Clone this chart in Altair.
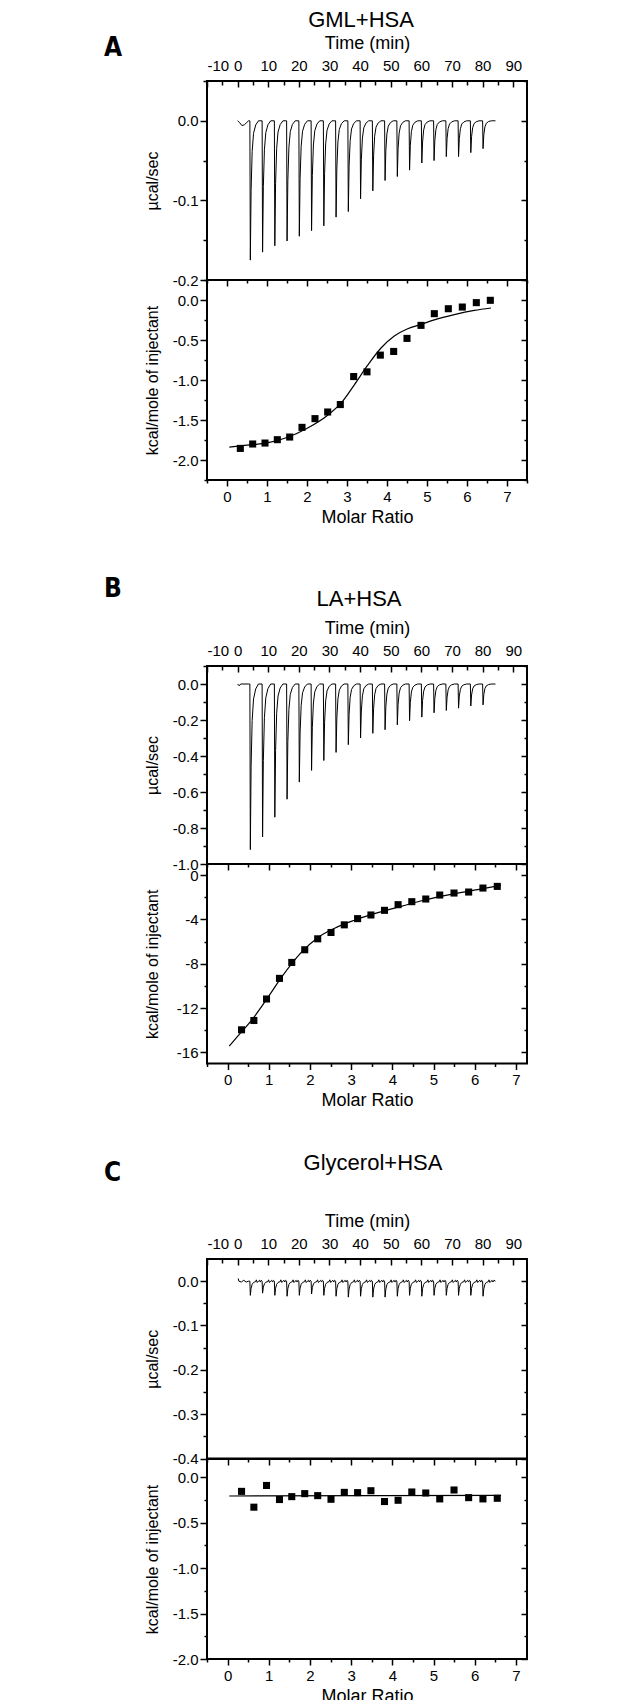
import altair as alt
import pandas as pd

FONT = "Liberation Sans"
LETTER_FONT = "Liberation Sans Narrow, DejaVu Sans Condensed, Liberation Sans"
MINUS = "replace(datum.label, '\u2212', '-')"

# ---------------- data ----------------
panel_titles = ["GML+HSA", "LA+HSA", "Glycerol+HSA"]
panel_letters = ["A", "B", "C"]

inj_times = [4, 8, 12, 16, 20, 24, 28, 32, 36, 40, 44, 48, 52, 56, 60, 64, 68, 72, 76, 80]
trace_end = 84.2

peaks_A = [-0.175, -0.165, -0.157, -0.151, -0.145, -0.138, -0.132, -0.121, -0.114, -0.098,
           -0.088, -0.075, -0.070, -0.062, -0.053, -0.050, -0.045, -0.045, -0.040, -0.035]
peaks_B = [-0.92, -0.85, -0.74, -0.64, -0.545, -0.48, -0.425, -0.38, -0.337, -0.30,
           -0.274, -0.254, -0.227, -0.204, -0.184, -0.160, -0.147, -0.134, -0.122, -0.116]
peaks_C = [-0.032, -0.027, -0.032, -0.034, -0.032, -0.029, -0.032, -0.034, -0.036, -0.034,
           -0.036, -0.036, -0.034, -0.032, -0.034, -0.032, -0.032, -0.032, -0.032, -0.034]

# spike shape (time after injection, fraction of peak depth)
spike_dt = [0.0, 0.15, 0.4, 0.75, 1.2, 1.9, 2.8]
spike_frac = [0.0, 1.0, 0.5, 0.22, 0.09, 0.03, 0.0]

# start of traces
pre_A_t = [0.0, 0.6, 1.4, 2.2, 3.0, 3.6]
pre_A_v = [0.0, -0.002, -0.006, -0.005, -0.002, 0.0]
pre_B_t = [0.0, 0.5, 1.0, 3.6]
pre_B_v = [0.0, -0.01, 0.0, 0.0]
pre_C_t = [0.2, 0.4, 1.2, 2.0, 2.8, 3.6]
pre_C_v = [0.006, 0.0, -0.002, 0.002, -0.002, 0.0]

# baseline wiggle of the glycerol trace
noise_C_dt = [2.1, 2.4, 3.1, 3.4, 3.7]
noise_C_v = [0.003, -0.003, 0.002, -0.002, 0.002]

# integrated heats
mr_A = [0.333, 0.642, 0.95, 1.258, 1.567, 1.875, 2.2, 2.517, 2.833, 3.167,
        3.5, 3.833, 4.167, 4.5, 4.85, 5.183, 5.533, 5.883, 6.233, 6.583]
heat_A = [-1.855, -1.80, -1.788, -1.746, -1.713, -1.592, -1.483, -1.40, -1.307, -0.957,
          -0.898, -0.689, -0.643, -0.48, -0.317, -0.171, -0.109, -0.088, -0.033, -0.004]
fit_A_x = [0.058, 0.5, 1.0, 1.517, 2.017, 2.517, 2.85, 3.183, 3.517, 3.85,
           4.183, 4.517, 4.85, 5.183, 5.683, 6.183, 6.6]
fit_A_y = [-1.838, -1.815, -1.787, -1.715, -1.6, -1.44, -1.29, -1.06, -0.815, -0.6,
           -0.45, -0.36, -0.305, -0.248, -0.182, -0.13, -0.1]

mr_B = [0.339, 0.638, 0.945, 1.26, 1.558, 1.873, 2.188, 2.511, 2.834, 3.157,
        3.48, 3.81, 4.14, 4.473, 4.812, 5.151, 5.498, 5.853, 6.2, 6.548]
heat_B = [-13.96, -13.12, -11.18, -9.32, -7.88, -6.74, -5.75, -5.18, -4.49, -3.93,
          -3.60, -3.18, -2.67, -2.40, -2.16, -1.80, -1.62, -1.53, -1.17, -1.02]
fit_B_x = [0.04, 0.3, 0.58, 0.95, 1.308, 1.79, 2.196, 2.6, 3.084, 3.65, 4.214, 4.78, 5.425, 6.07, 6.636]
fit_B_y = [-15.43, -14.31, -13.12, -11.2, -9.23, -6.98, -5.63, -4.79, -4.07, -3.39, -2.82, -2.25, -1.74, -1.32, -0.93]

mr_C = [0.339, 0.638, 0.945, 1.26, 1.558, 1.873, 2.188, 2.511, 2.834, 3.157,
        3.48, 3.81, 4.14, 4.473, 4.812, 5.151, 5.498, 5.853, 6.2, 6.548]
heat_C = [-0.156, -0.33, -0.091, -0.246, -0.214, -0.181, -0.203, -0.243, -0.167, -0.170,
          -0.149, -0.268, -0.254, -0.163, -0.174, -0.239, -0.141, -0.225, -0.239, -0.232]
fit_C_x = [0.04, 6.64]
fit_C_y = [-0.207, -0.200]

time_major = [-10, 0, 10, 20, 30, 40, 50, 60, 70, 80, 90]
time_minor = [-5, 5, 15, 25, 35, 45, 55, 65, 75, 85]


def build_trace(peaks, pre_t, pre_v, noise_dt=None, noise_v=None):
    rows = list(zip(pre_t, pre_v))
    for t0, p in zip(inj_times, peaks):
        for dt, f in zip(spike_dt, spike_frac):
            rows.append((t0 + dt, p * f))
        if noise_dt:
            for dt, v in zip(noise_dt, noise_v):
                rows.append((t0 + dt, v))
    rows.append((trace_end, 0.0))
    rows.sort(key=lambda r: r[0])
    return pd.DataFrame(rows, columns=["t", "v"])


def ax(**kw):
    base = dict(domain=False, grid=False, tickColor="black", tickWidth=1.5,
                labelColor="black", labelFont=FONT, labelFontSize=15,
                titleFont=FONT, titleFontWeight="normal", titleColor="black")
    base.update(kw)
    return alt.Axis(**base)


def tick_axis(orient, values, size, offset=0):
    return ax(orient=orient, values=values, tickSize=size, offset=offset, labels=False, title=None)


def text_layer(s, x, y, size, font, weight="normal", align="center"):
    return alt.Chart(pd.DataFrame({"s": [s]})).mark_text(
        font=font, fontSize=size, fontWeight=weight, align=align, baseline="middle", color="black"
    ).encode(text="s:N", x=alt.value(x), y=alt.value(y))


W = 320


def top_panel(df, ydom, ymajor, yminor, height, title, title_xy, letter, letter_y):
    xs = alt.Scale(domain=[-10, 94.5], nice=False, zero=False)
    ys = alt.Scale(domain=ydom, nice=False, zero=False)
    base = alt.Chart(df)
    l1 = base.mark_line(color="black", strokeWidth=1).encode(
        x=alt.X("t:Q", scale=xs, axis=ax(orient="top", values=time_major, format="d", tickSize=0,
                                         labelPadding=8, title="Time (min)", titleFontSize=18,
                                         titleX=W / 2, titleY=-37.3, titleBaseline="middle",
                                         labelExpr=MINUS)),
        y=alt.Y("v:Q", scale=ys, axis=ax(orient="left", values=ymajor, format=".1f", tickSize=7,
                                         labelPadding=2, title="µcal/sec", titleFontSize=16,
                                         titleX=-54.3, titleY=height / 2, titleBaseline="middle",
                                         labelExpr=MINUS)),
    )
    l2 = base.mark_line(strokeOpacity=0).encode(
        x=alt.X("t:Q", scale=xs, axis=tick_axis("top", time_major, 6, -6)),
        y=alt.Y("v:Q", scale=ys, axis=tick_axis("left", yminor, 4)),
    )
    l3 = base.mark_line(strokeOpacity=0).encode(
        x=alt.X("t:Q", scale=xs, axis=tick_axis("top", time_minor, 4, -4)),
        y=alt.Y("v:Q", scale=ys, axis=tick_axis("right", ymajor, 6, -6)),
    )
    l4 = base.mark_line(strokeOpacity=0).encode(
        x=alt.X("t:Q", scale=xs, axis=None),
        y=alt.Y("v:Q", scale=ys, axis=tick_axis("right", yminor, 3, -3)),
    )
    t1 = text_layer(title, title_xy[0], title_xy[1], 22, FONT)
    t2 = text_layer(letter, -103, letter_y, 26, LETTER_FONT, weight="bold", align="left")
    return alt.layer(l1, l2, l3, l4, t1, t2).resolve_axis(
        x="independent", y="independent").properties(width=W, height=height)


def bottom_panel(mr, heat, fx, fy, xdom, ydom, ymajor, yminor, yfmt, height):
    xs = alt.Scale(domain=xdom, nice=False, zero=False)
    ys = alt.Scale(domain=ydom, nice=False, zero=False)
    pts = alt.Chart(pd.DataFrame({"m": mr, "h": heat}))
    fit = alt.Chart(pd.DataFrame({"m": fx, "h": fy}))
    mmajor = [v for v in range(0, 8) if v <= xdom[1]]
    mminor = [v + 0.5 for v in range(-1, 8) if v + 0.5 <= xdom[1]]
    l1 = pts.mark_square(size=50, color="black", opacity=1).encode(
        x=alt.X("m:Q", scale=xs, axis=ax(orient="bottom", values=mmajor, format="d", tickSize=6,
                                         labelPadding=3, title="Molar Ratio", titleFontSize=18,
                                         titleX=W / 2, titleY=37.4, titleBaseline="middle")),
        y=alt.Y("h:Q", scale=ys, axis=ax(orient="left", values=ymajor, format=yfmt, tickSize=7,
                                         labelPadding=2, title="kcal/mole of injectant",
                                         titleFontSize=16, titleX=-54.3, titleY=height / 2,
                                         titleBaseline="middle", labelExpr=MINUS)),
    )
    l2 = fit.mark_line(color="black", strokeWidth=1.2, interpolate="monotone").encode(
        x=alt.X("m:Q", scale=xs, axis=tick_axis("bottom", mminor, 3)),
        y=alt.Y("h:Q", scale=ys, axis=tick_axis("left", yminor, 3)),
    )
    l3 = pts.mark_point(opacity=0).encode(
        x=alt.X("m:Q", scale=xs, axis=tick_axis("top", mmajor, 6, -6)),
        y=alt.Y("h:Q", scale=ys, axis=tick_axis("right", ymajor, 6, -6)),
    )
    l4 = pts.mark_point(opacity=0).encode(
        x=alt.X("m:Q", scale=xs, axis=tick_axis("top", mminor, 3, -3)),
        y=alt.Y("h:Q", scale=ys, axis=tick_axis("right", yminor, 3, -3)),
    )
    return alt.layer(l1, l2, l3, l4).resolve_axis(
        x="independent", y="independent").properties(width=W, height=height)


def spacer(h):
    return alt.Chart(pd.DataFrame({"a": [0]})).mark_point(opacity=0).encode(
        x=alt.X("a:Q", axis=None), y=alt.Y("a:Q", axis=None)
    ).properties(width=W, height=h, view=alt.ViewBackground(stroke="transparent"))


trace_A = build_trace(peaks_A, pre_A_t, pre_A_v)
trace_B = build_trace(peaks_B, pre_B_t, pre_B_v)
trace_C = build_trace(peaks_C, pre_C_t, pre_C_v, noise_C_dt, noise_C_v)

topA = top_panel(trace_A, [-0.2, 0.05], [0.0, -0.1, -0.2], [0.05, -0.05, -0.15], 199,
                 panel_titles[0], (154, -61), panel_letters[0], -33)
botA = bottom_panel(mr_A, heat_A, fit_A_x, fit_A_y, [-0.5, 7.5], [-2.25, 0.25],
                    [0.0, -0.5, -1.0, -1.5, -2.0], [0.25, -0.25, -0.75, -1.25, -1.75, -2.25], ".1f", 200)

topB = top_panel(trace_B, [-1.0, 0.1], [0.0, -0.2, -0.4, -0.6, -0.8, -1.0],
                 [0.1, -0.1, -0.3, -0.5, -0.7, -0.9], 198,
                 panel_titles[1], (152, -67), panel_letters[1], -77)
botB = bottom_panel(mr_B, heat_B, fit_B_x, fit_B_y, [-0.5, 7.27], [-17, 1],
                    [0, -4, -8, -12, -16], [-2, -6, -10, -14], "d", 199.5)

topC = top_panel(trace_C, [-0.4, 0.05], [0.0, -0.1, -0.2, -0.3, -0.4],
                 [-0.05, -0.15, -0.25, -0.35], 199.5,
                 panel_titles[2], (166, -95.6), panel_letters[2], -85.6)
botC = bottom_panel(mr_C, heat_C, fit_C_x, fit_C_y, [-0.5, 7.27], [-2.0, 0.2],
                    [0.0, -0.5, -1.0, -1.5, -2.0], [-0.25, -0.75, -1.25, -1.75], ".1f", 200)

chart = alt.vconcat(
    topA, botA, spacer(186), topB, botB, spacer(194.5), topC, botC,
    spacing=0, bounds="flush"
).properties(
    padding={"left": 95, "top": 0, "right": 5, "bottom": 5},
    background="white",
).configure_view(stroke="black", strokeWidth=2)

chart.save("out.html", embed_options={"renderer": "svg", "actions": False})
